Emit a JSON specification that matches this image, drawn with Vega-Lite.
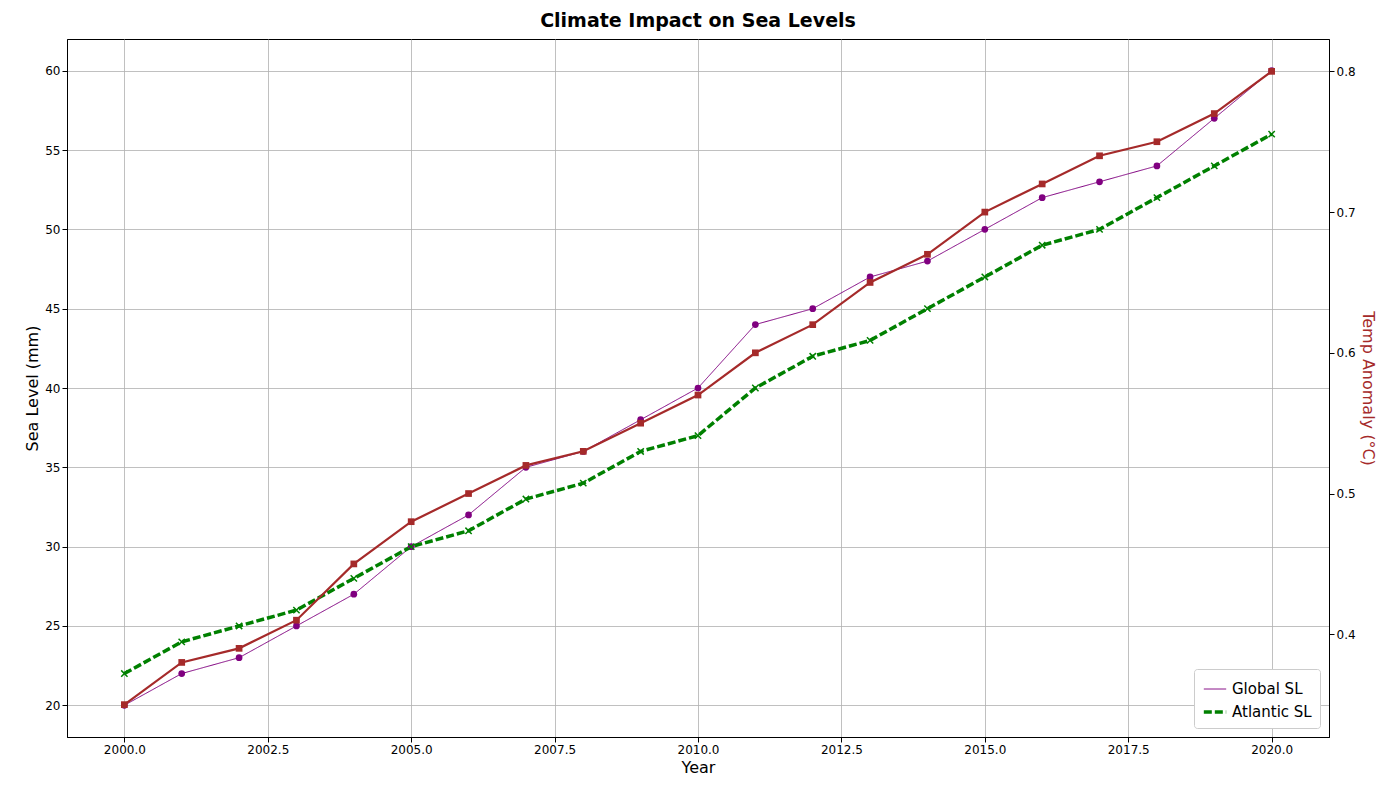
{
  "$schema": "https://vega.github.io/schema/vega-lite/v6.json",
  "width": 1262,
  "height": 698,
  "autosize": {"type": "none"},
  "padding": {"left": 67, "top": 39, "right": 71, "bottom": 63},
  "background": "white",
  "config": {
    "font": "DejaVu Sans",
    "view": {"stroke": "black", "strokeWidth": 1},
    "axis": {"labelFontSize": 12, "titleFontSize": 16, "titleFontWeight": "normal", "gridColor": "#b0b0b0", "gridOpacity": 0.8, "tickColor": "black", "domainColor": "black", "labelColor": "black", "titleColor": "black"}
  },
  "title": {"text": "Climate Impact on Sea Levels", "fontSize": 19, "fontWeight": "bold", "offset": 8},
  "data": {"values": [
    {"year": 2000, "global": 20, "atlantic": 22, "temp": 0.35},
    {"year": 2001, "global": 22, "atlantic": 24, "temp": 0.38},
    {"year": 2002, "global": 23, "atlantic": 25, "temp": 0.39},
    {"year": 2003, "global": 25, "atlantic": 26, "temp": 0.41},
    {"year": 2004, "global": 27, "atlantic": 28, "temp": 0.45},
    {"year": 2005, "global": 30, "atlantic": 30, "temp": 0.48},
    {"year": 2006, "global": 32, "atlantic": 31, "temp": 0.50},
    {"year": 2007, "global": 35, "atlantic": 33, "temp": 0.52},
    {"year": 2008, "global": 36, "atlantic": 34, "temp": 0.53},
    {"year": 2009, "global": 38, "atlantic": 36, "temp": 0.55},
    {"year": 2010, "global": 40, "atlantic": 37, "temp": 0.57},
    {"year": 2011, "global": 44, "atlantic": 40, "temp": 0.60},
    {"year": 2012, "global": 45, "atlantic": 42, "temp": 0.62},
    {"year": 2013, "global": 47, "atlantic": 43, "temp": 0.65},
    {"year": 2014, "global": 48, "atlantic": 45, "temp": 0.67},
    {"year": 2015, "global": 50, "atlantic": 47, "temp": 0.70},
    {"year": 2016, "global": 52, "atlantic": 49, "temp": 0.72},
    {"year": 2017, "global": 53, "atlantic": 50, "temp": 0.74},
    {"year": 2018, "global": 54, "atlantic": 52, "temp": 0.75},
    {"year": 2019, "global": 57, "atlantic": 54, "temp": 0.77},
    {"year": 2020, "global": 60, "atlantic": 56, "temp": 0.80}
  ]},
  "encoding": {
    "x": {"field": "year", "type": "quantitative", "scale": {"domain": [1999, 2021], "nice": false, "zero": false},
      "axis": {"title": "Year", "format": ".1f", "values": [2000, 2002.5, 2005, 2007.5, 2010, 2012.5, 2015, 2017.5, 2020]}}
  },
  "layer": [
    {
      "transform": [{"fold": ["global", "atlantic"], "as": ["key", "sl"]},
        {"calculate": "datum.key == 'global' ? 'Global SL' : 'Atlantic SL'", "as": "series"}],
      "layer": [
        {
          "mark": {"type": "line"},
          "encoding": {
            "y": {"field": "sl", "type": "quantitative", "scale": {"domain": [18, 62], "nice": false, "zero": false},
              "axis": {"title": "Sea Level (mm)", "values": [20, 25, 30, 35, 40, 45, 50, 55, 60]}},
            "color": {"field": "series", "type": "nominal", "scale": {"domain": ["Global SL", "Atlantic SL"], "range": ["purple", "green"]},
              "legend": {"title": null, "orient": "bottom-right", "labelFontSize": 15, "symbolType": "stroke", "symbolStrokeWidth": 2.5, "symbolSize": 500, "fillColor": "white", "strokeColor": "#cccccc", "padding": 8, "cornerRadius": 3, "offset": 9}},
            "strokeWidth": {"field": "series", "type": "nominal", "scale": {"domain": ["Global SL", "Atlantic SL"], "range": [1, 3.5]}, "legend": null},
            "strokeDash": {"field": "series", "type": "nominal", "scale": {"domain": ["Global SL", "Atlantic SL"], "range": [[1, 0], [8, 3]]}, "legend": null}
          }
        },
        {
          "transform": [{"filter": "datum.series == 'Global SL'"}],
          "mark": {"type": "circle", "size": 45, "color": "purple", "opacity": 1},
          "encoding": {"y": {"field": "sl", "type": "quantitative"}}
        },
        {
          "transform": [{"filter": "datum.series == 'Atlantic SL'"}],
          "mark": {"type": "point", "shape": "M-1,-1L1,1M-1,1L1,-1", "size": 40, "strokeWidth": 1.5, "color": "green", "filled": false, "opacity": 1},
          "encoding": {"y": {"field": "sl", "type": "quantitative"}}
        }
      ]
    },
    {
      "layer": [
        {"mark": {"type": "line", "color": "#a52a2a", "strokeWidth": 2.2}},
        {"mark": {"type": "square", "color": "#a52a2a", "size": 45, "opacity": 1}}
      ],
      "encoding": {
        "y": {"field": "temp", "type": "quantitative", "scale": {"domain": [0.327, 0.823], "nice": false, "zero": false},
          "axis": {"title": "Temp Anomaly (°C)", "titleColor": "#a52a2a", "orient": "right", "grid": false, "values": [0.4, 0.5, 0.6, 0.7, 0.8], "format": ".1f"}}
      }
    }
  ],
  "resolve": {"scale": {"y": "independent"}}
}
